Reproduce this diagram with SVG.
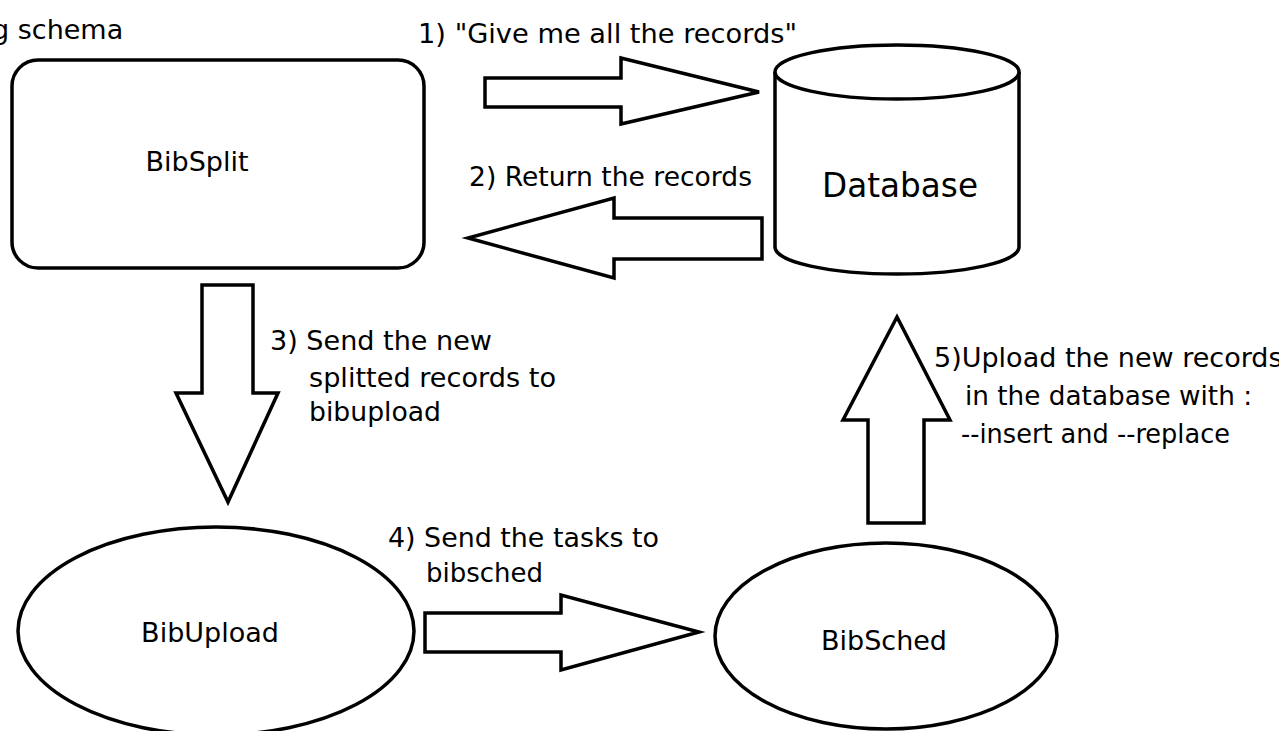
<svg xmlns="http://www.w3.org/2000/svg" width="1279" height="731" viewBox="0 0 1279 731">
  <style>
    .shape { fill: #ffffff; stroke: #000000; stroke-width: 3.5; stroke-linejoin: miter; }
    .arrow { fill: #ffffff; stroke: #000000; stroke-width: 3.5; stroke-linejoin: miter; }
    text { font-family: "DejaVu Sans", Verdana, sans-serif; font-size: 27px; fill: #000000; }
    .big { font-size: 33px; }
  </style>
  <rect width="1279" height="731" fill="#ffffff"/>

  <text x="-8" y="39">g schema</text>

  <!-- nodes -->
  <g id="bibsplit">
    <rect class="shape" x="12" y="60" width="412" height="208" rx="26" ry="26"/>
    <text x="197" y="171" text-anchor="middle">BibSplit</text>
  </g>

  <g id="database">
    <path class="shape" d="M775,72 L775,247 A122,27 0 0 0 1019,247 L1019,72"/>
    <ellipse class="shape" cx="897" cy="72" rx="122" ry="27"/>
    <text class="big" x="900" y="197" text-anchor="middle" textLength="156" lengthAdjust="spacingAndGlyphs">Database</text>
  </g>

  <g id="bibupload">
    <ellipse class="shape" cx="216" cy="631" rx="198" ry="104"/>
    <text x="210" y="642" text-anchor="middle">BibUpload</text>
  </g>

  <g id="bibsched">
    <ellipse class="shape" cx="886" cy="636" rx="171" ry="93"/>
    <text x="884" y="650" text-anchor="middle">BibSched</text>
  </g>

  <!-- connectors: block arrows with their step labels -->
  <g id="connectors">
    <polygon class="arrow" points="485,78 621,78 621,58 759,92 621,124 621,107 485,107"/>
    <text x="418" y="43" textLength="379" lengthAdjust="spacingAndGlyphs">1) "Give me all the records"</text>

    <polygon class="arrow" points="762,218 614,218 614,198 468,238 614,278 614,259 762,259"/>
    <text x="469" y="186" textLength="283" lengthAdjust="spacingAndGlyphs">2) Return the records</text>

    <polygon class="arrow" points="202,285 253,285 253,393 278,393 228,502 176,393 202,393"/>
    <text x="270" y="350" textLength="222" lengthAdjust="spacingAndGlyphs">3) Send the new</text>
    <text x="309" y="387" textLength="247" lengthAdjust="spacingAndGlyphs">splitted records to</text>
    <text x="309" y="421" textLength="132" lengthAdjust="spacingAndGlyphs">bibupload</text>

    <polygon class="arrow" points="425,613 561,613 561,595 699,632 561,670 561,652 425,652"/>
    <text x="388" y="547" textLength="271" lengthAdjust="spacingAndGlyphs">4) Send the tasks to</text>
    <text x="426" y="582" textLength="117" lengthAdjust="spacingAndGlyphs">bibsched</text>

    <polygon class="arrow" points="868,523 924,523 924,420 950,420 897,317 843,420 868,420"/>
    <text x="934" y="367">5)Upload the new records</text>
    <text x="965" y="405" textLength="287" lengthAdjust="spacingAndGlyphs">in the database with :</text>
    <text x="961" y="443" textLength="269" lengthAdjust="spacingAndGlyphs">--insert and --replace</text>
  </g>
</svg>
